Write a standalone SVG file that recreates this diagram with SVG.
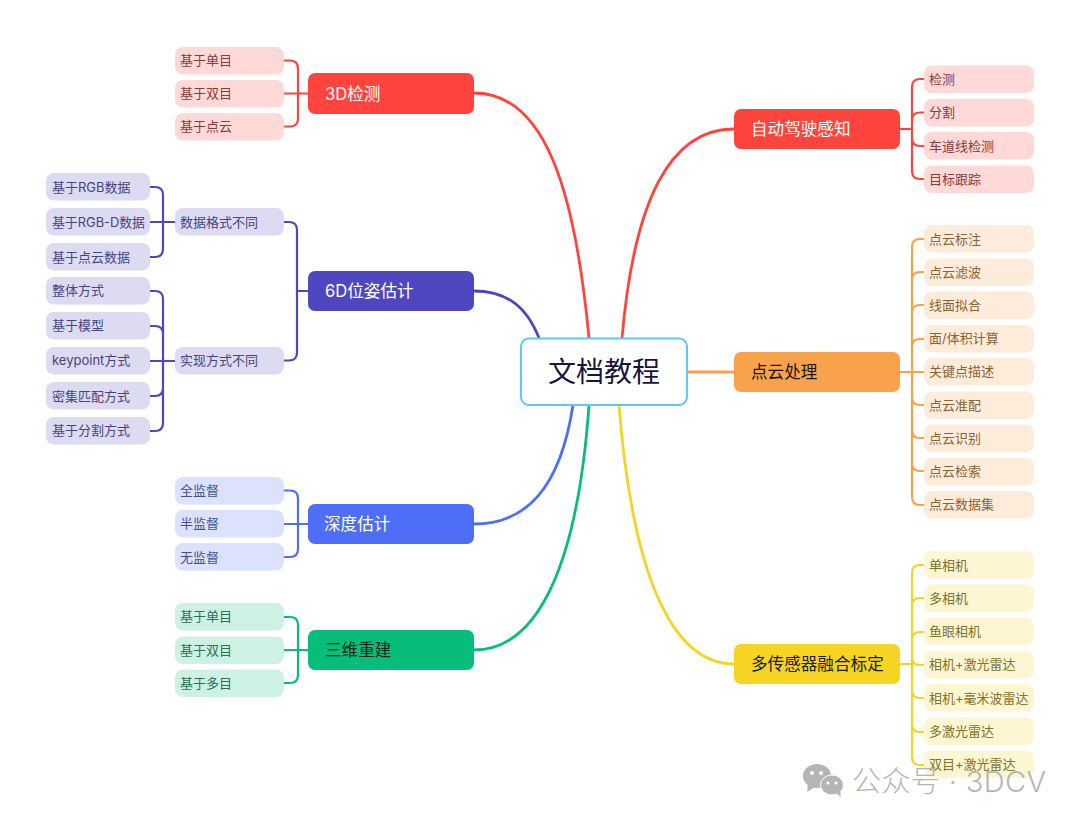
<svg xmlns="http://www.w3.org/2000/svg" width="1080" height="824" viewBox="0 0 1080 824">
<style>
text{font-family:"Inter","Noto Sans CJK SC","Noto Sans",sans-serif;dominant-baseline:central}
.main text{font-size:16.600px;font-weight:400;fill:#fff}
.leaf text{font-size:13px;transform:translateY(-.6px)}
.c{fill:none;stroke-width:2.800;stroke-linecap:round}
.c2{stroke-width:2.200}
.r{stroke:#ff443d}.i{stroke:#4e47bf}.b{stroke:#4f6ef7}.g{stroke:#06be7a}.o{stroke:#f8a24b}.y{stroke:#f5d423}
.lr rect{fill:#ffd9d8}.lr text{fill:#8a3a3a}
.li rect{fill:#dcdbf2}.li text{fill:#47447f}
.lb rect{fill:#dce2fd}.lb text{fill:#47528a}
.lg rect{fill:#cdf2e4}.lg text{fill:#2a7058}
.lo rect{fill:#feecdb}.lo text{fill:#8a6234}
.ly rect{fill:#fdf6d3}.ly text{fill:#82722a}
</style>
<rect width="1080" height="824" fill="#fff"/>
<g id="connectors">
<path class="c r" d="M474 93C545 93 575 190 589 338"/>
<path class="c i" d="M474 291C505 291 526 305 539 338"/>
<path class="c b" d="M474 524C525 524 560 490 573 405"/>
<path class="c g" d="M474 650C540 650 578 560 589 405"/>
<path class="c r" d="M734 129C670 129 634 200 622 338"/>
<path class="c o" d="M687 372H734"/>
<path class="c y" d="M734 664C670 664 632 570 619 405"/>
<g class="c2">
<path class="c c2 r" d="M284 60.500H290Q298 60.500 298 68.500V118.500Q298 126.500 290 126.500H284M284 93.500H308"/>
<path class="c c2 i" d="M284 222H289Q297 222 297 230V352.500Q297 360.500 289 360.500H284M297 291H308"/>
<path class="c c2 i" d="M150 187H155Q163 187 163 195V249Q163 257 155 257H150M150 222H175"/>
<path class="c c2 i" d="M150 291H155Q163 291 163 299V423Q163 431 155 431H150M150 326H155Q163 326 163 334M150 396H155Q163 396 163 388M150 361H175"/>
<path class="c c2 b" d="M284 490.500H290Q298 490.500 298 498.500V549Q298 557 290 557H284M284 524H308"/>
<path class="c c2 g" d="M284 617H290Q298 617 298 625V675Q298 683 290 683H284M284 650H308"/>
<path class="c c2 r" d="M924 79H920Q912 79 912 87V171Q912 179 920 179H924M924 112.500H920Q912 112.500 912 120.500M924 146H920Q912 146 912 138M900 129H912"/>
<path class="c c2 o" d="M924 239H920Q912 239 912 247V497Q912 505 920 505H924M924 272H920Q912 272 912 280M924 305H920Q912 305 912 313M924 339H920Q912 339 912 347M924 405H920Q912 405 912 397M924 438H920Q912 438 912 430M924 471H920Q912 471 912 463M900 372H924"/>
<path class="c c2 y" d="M924 565H920Q912 565 912 573V757Q912 765 920 765H924M924 598H920Q912 598 912 606M924 632H920Q912 632 912 640M924 665H920Q912 665 912 657M924 698H920Q912 698 912 690M924 732H920Q912 732 912 724M900 664H912"/>
</g>
</g>
<g id="root"><rect x="521" y="338.500" width="166" height="66.500" rx="8" fill="#fff" stroke="#5cc8f5" stroke-width="2"/><text x="604" y="372" font-size="28" text-anchor="middle" fill="#16163c">文档教程</text></g>
<g id="n-3d" class="main"><rect x="308" y="73" width="166" height="41" rx="7" fill="#ff443d"/><text x="325" y="93.500">3D检测</text></g>
<g id="n-6d" class="main"><rect x="308" y="271" width="166" height="40" rx="7" fill="#4e47bf"/><text x="325" y="291">6D位姿估计</text></g>
<g id="n-depth" class="main"><rect x="308" y="504" width="166" height="40" rx="7" fill="#4f6ef7"/><text x="324" y="524">深度估计</text></g>
<g id="n-recon" class="main"><rect x="308" y="630" width="166" height="40" rx="7" fill="#06be7a"/><text x="325" y="650" style="fill:#10201a">三维重建</text></g>
<g id="n-perception" class="main"><rect x="734" y="109" width="166" height="40" rx="7" fill="#ff443d"/><text x="751" y="129">自动驾驶感知</text></g>
<g id="n-pointcloud" class="main"><rect x="734" y="352" width="166" height="40" rx="7" fill="#f8a24b"/><text x="751" y="372" style="fill:#1c1408">点云处理</text></g>
<g id="n-fusion" class="main"><rect x="734" y="644" width="166" height="40" rx="7" fill="#f5d423"/><text x="751" y="664" style="fill:#1c1a08">多传感器融合标定</text></g>
<g id="l1" class="leaf lr"><rect x="175" y="47" width="109" height="27.500" rx="8"/><text x="180" y="61">基于单目</text></g>
<g id="l2" class="leaf lr"><rect x="175" y="80" width="109" height="27.500" rx="8"/><text x="180" y="94">基于双目</text></g>
<g id="l3" class="leaf lr"><rect x="175" y="113" width="109" height="27.500" rx="8"/><text x="180" y="127">基于点云</text></g>
<g id="l4" class="leaf li"><rect x="175" y="208" width="109" height="27.500" rx="8"/><text x="180" y="223">数据格式不同</text></g>
<g id="l5" class="leaf li"><rect x="175" y="347" width="109" height="27.500" rx="8"/><text x="180" y="361">实现方式不同</text></g>
<g id="l6" class="leaf li"><rect x="46" y="173" width="104" height="27.500" rx="8"/><text x="52" y="188">基于RGB数据</text></g>
<g id="l7" class="leaf li"><rect x="46" y="208" width="104" height="27.500" rx="8"/><text x="52" y="223" textLength="93" lengthAdjust="spacingAndGlyphs">基于RGB-D数据</text></g>
<g id="l8" class="leaf li"><rect x="46" y="243" width="104" height="27.500" rx="8"/><text x="52" y="258">基于点云数据</text></g>
<g id="l9" class="leaf li"><rect x="46" y="277" width="104" height="27.500" rx="8"/><text x="52" y="291">整体方式</text></g>
<g id="l10" class="leaf li"><rect x="46" y="312" width="104" height="27.500" rx="8"/><text x="52" y="326">基于模型</text></g>
<g id="l11" class="leaf li"><rect x="46" y="347" width="104" height="27.500" rx="8"/><text x="52" y="361">keypoint方式</text></g>
<g id="l12" class="leaf li"><rect x="46" y="382" width="104" height="27.500" rx="8"/><text x="52" y="397">密集匹配方式</text></g>
<g id="l13" class="leaf li"><rect x="46" y="417" width="104" height="27.500" rx="8"/><text x="52" y="431">基于分割方式</text></g>
<g id="l14" class="leaf lb"><rect x="175" y="477" width="109" height="27.500" rx="8"/><text x="180" y="491">全监督</text></g>
<g id="l15" class="leaf lb"><rect x="175" y="510" width="109" height="27.500" rx="8"/><text x="180" y="524">半监督</text></g>
<g id="l16" class="leaf lb"><rect x="175" y="543" width="109" height="27.500" rx="8"/><text x="180" y="558">无监督</text></g>
<g id="l17" class="leaf lg"><rect x="175" y="603" width="109" height="27.500" rx="8"/><text x="180" y="617">基于单目</text></g>
<g id="l18" class="leaf lg"><rect x="175" y="636.500" width="109" height="27.500" rx="8"/><text x="180" y="651">基于双目</text></g>
<g id="l19" class="leaf lg"><rect x="175" y="669.500" width="109" height="27.500" rx="8"/><text x="180" y="684">基于多目</text></g>
<g id="r1" class="leaf lr"><rect x="924" y="65.500" width="110" height="27.500" rx="8"/><text x="929" y="80">检测</text></g>
<g id="r2" class="leaf lr"><rect x="924" y="99" width="110" height="27.500" rx="8"/><text x="929" y="113">分割</text></g>
<g id="r3" class="leaf lr"><rect x="924" y="132" width="110" height="27.500" rx="8"/><text x="929" y="147">车道线检测</text></g>
<g id="r4" class="leaf lr"><rect x="924" y="165.500" width="110" height="27.500" rx="8"/><text x="929" y="180">目标跟踪</text></g>
<g id="o1" class="leaf lo"><rect x="924" y="225" width="110" height="27.500" rx="8"/><text x="929" y="240">点云标注</text></g>
<g id="o2" class="leaf lo"><rect x="924" y="258.500" width="110" height="27.500" rx="8"/><text x="929" y="273">点云滤波</text></g>
<g id="o3" class="leaf lo"><rect x="924" y="291.500" width="110" height="27.500" rx="8"/><text x="929" y="306">线面拟合</text></g>
<g id="o4" class="leaf lo"><rect x="924" y="325" width="110" height="27.500" rx="8"/><text x="929" y="339">面/体积计算</text></g>
<g id="o5" class="leaf lo"><rect x="924" y="358" width="110" height="27.500" rx="8"/><text x="929" y="372">关键点描述</text></g>
<g id="o6" class="leaf lo"><rect x="924" y="391.500" width="110" height="27.500" rx="8"/><text x="929" y="406">点云准配</text></g>
<g id="o7" class="leaf lo"><rect x="924" y="424.500" width="110" height="27.500" rx="8"/><text x="929" y="439">点云识别</text></g>
<g id="o8" class="leaf lo"><rect x="924" y="458" width="110" height="27.500" rx="8"/><text x="929" y="472">点云检索</text></g>
<g id="o9" class="leaf lo"><rect x="924" y="491" width="110" height="27.500" rx="8"/><text x="929" y="505">点云数据集</text></g>
<g id="y1" class="leaf ly"><rect x="924" y="551" width="110" height="27.500" rx="8"/><text x="929" y="566">单相机</text></g>
<g id="y2" class="leaf ly"><rect x="924" y="584.500" width="110" height="27.500" rx="8"/><text x="929" y="599">多相机</text></g>
<g id="y3" class="leaf ly"><rect x="924" y="617.500" width="110" height="27.500" rx="8"/><text x="929" y="632">鱼眼相机</text></g>
<g id="y4" class="leaf ly"><rect x="924" y="651" width="110" height="27.500" rx="8"/><text x="929" y="665">相机+激光雷达</text></g>
<g id="y5" class="leaf ly"><rect x="924" y="684" width="110" height="27.500" rx="8"/><text x="929" y="699">相机+毫米波雷达</text></g>
<g id="y6" class="leaf ly"><rect x="924" y="717.500" width="110" height="27.500" rx="8"/><text x="929" y="732">多激光雷达</text></g>
<g id="y7" class="leaf ly"><rect x="924" y="750.500" width="110" height="27.500" rx="8"/><text x="929" y="765">双目+激光雷达</text></g>
<g id="watermark" opacity="0.95">
<ellipse cx="817" cy="776" rx="14" ry="12" fill="#b2b2b2"/>
<path d="M808 784L807 792L815 787Z" fill="#b2b2b2"/>
<ellipse cx="832" cy="785" rx="11.500" ry="10" fill="#b2b2b2" stroke="#fff" stroke-width="1"/>
<path d="M836 793L841 797L840 790Z" fill="#b2b2b2"/>
<circle cx="812" cy="773" r="2" fill="#fff"/><circle cx="821" cy="773" r="2" fill="#fff"/>
<circle cx="828" cy="783" r="1.600" fill="#fff"/><circle cx="836" cy="783" r="1.600" fill="#fff"/>
<text x="852" y="781" font-size="29" font-weight="300" fill="#b2b2b2" textLength="194" lengthAdjust="spacing">公众号 · 3DCV</text>
</g>
</svg>
